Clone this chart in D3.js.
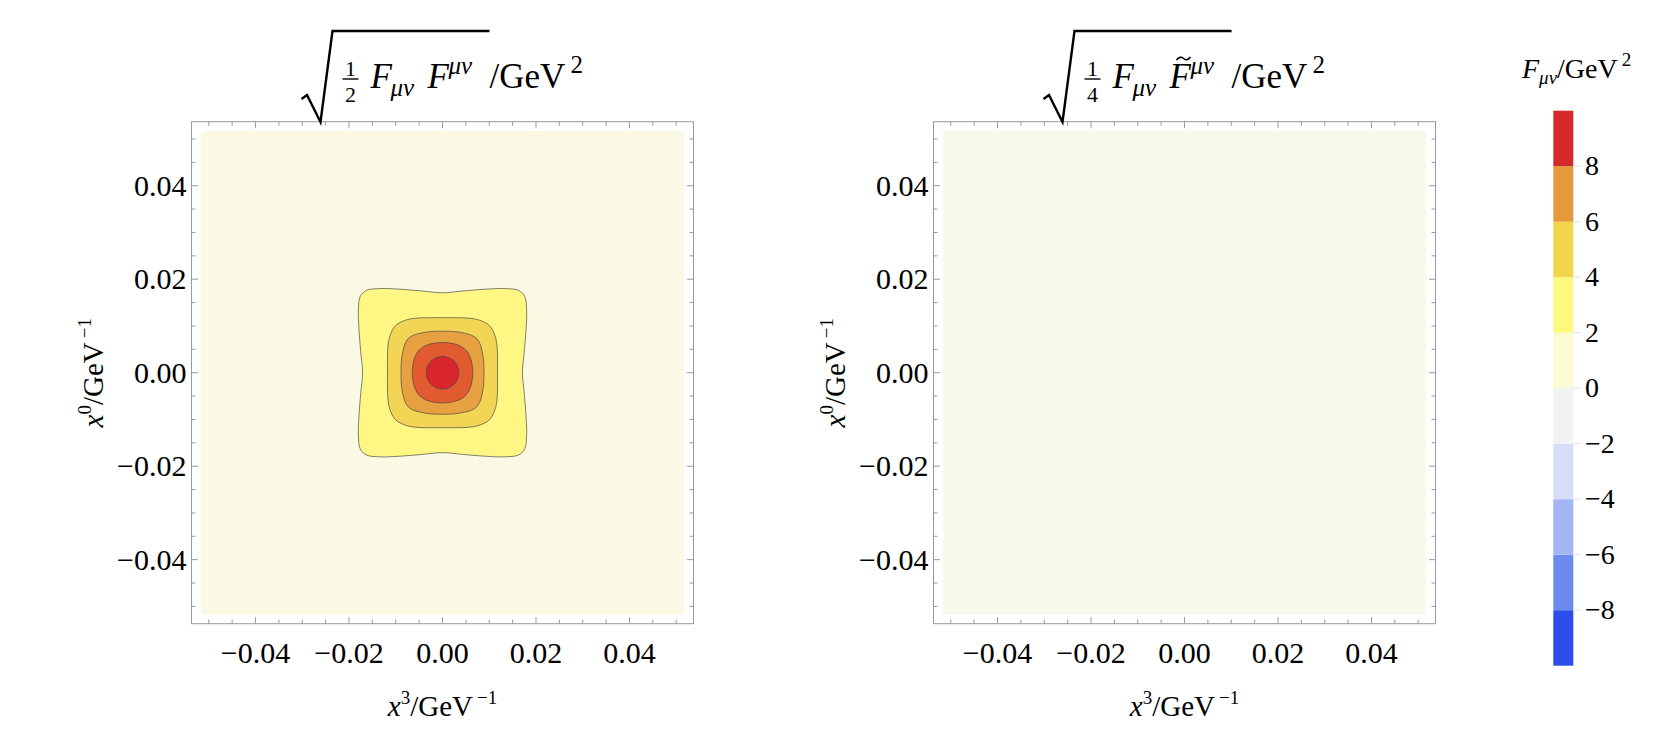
<!DOCTYPE html>
<html>
<head>
<meta charset="utf-8">
<script src="https://cdn.jsdelivr.net/npm/d3@7"></script>
<style>
  body { margin: 0; background: #fff; }
  svg text { font-family: 'Liberation Serif', 'DejaVu Serif', serif; fill: #000; }
</style>
</head>
<body>
<div id="chart"></div>
<script>
// tick labels of both frames
const majorTicks = [-0.04, -0.02, 0, 0.02, 0.04];
const minorTicks = d3.range(-0.05, 0.0501, 0.005);

// contour levels of the left panel and their fills
const levels = [2, 4, 6, 8, 10];
const levelColors = ['#fef783', '#f3d555', '#e8a142', '#e25a2f', '#d8262c'];

// one quadrant of every contour (x3, x0), angle 0 -> 90 deg
const contour2 = [[0.0171, 0], [0.0175, 0.0045], [0.0179, 0.0097], [0.0180, 0.0133], [0.0176, 0.0163],
  [0.0163, 0.0176], [0.0133, 0.0180], [0.0097, 0.0179], [0.0045, 0.0175], [0, 0.0171]];
const contour4 = [[0.01177, 0], [0.01177, 0.00321], [0.01166, 0.00578], [0.01123, 0.00792], [0.01006, 0.01006],
  [0.00792, 0.01123], [0.00578, 0.01166], [0.00321, 0.01177], [0, 0.01177]];
const contour6 = [[0.00888, 0], [0.00881, 0.00257], [0.00845, 0.00471], [0.00802, 0.00620], [0.00732, 0.00732],
  [0.00620, 0.00802], [0.00471, 0.00845], [0.00257, 0.00881], [0, 0.00888]];
const contour8 = [[0.00648, 0], [0.00633, 0.00171], [0.00588, 0.00342], [0.00492, 0.00492],
  [0.00342, 0.00588], [0.00171, 0.00633], [0, 0.00648]];
const contour10 = [[0.00349, 0], [0.00322, 0.00134], [0.00247, 0.00247], [0.00134, 0.00322], [0, 0.00349]];
const contours = [contour2, contour4, contour6, contour8, contour10];

// plotted region and background fills
const plotExtent = [-0.0517, 0.0517];
const bgColors = ['#fbf9e4', '#f8f9ea'];

// legend bar
const barBreaks = [-10, -8, -6, -4, -2, 0, 2, 4, 6, 8, 10];
const barColors = ['#2b4eea', '#6b8cee', '#a3b5f2', '#d6ddf9', '#f1f2f2', '#fcfbd6', '#fdf97c', '#f1d54a', '#e49a3c', '#d42a2c'];
const barLabels = [-8, -6, -4, -2, 0, 2, 4, 6, 8];

const WIDTH = 1653;
const HEIGHT = 755;
const PANEL_SIZE = 502;
const PANEL_TOP = 121.7;
const PANEL_LEFTS = [191.5, 933.5];
const DOMAIN = [-0.0537, 0.0537];

const svg = d3.select('#chart')
  .append('svg')
  .attr('width', WIDTH)
  .attr('height', HEIGHT)
  .attr('viewBox', `0 0 ${WIDTH} ${HEIGHT}`);

// mirror a quadrant into a closed loop
const loop = pts => {
  const n = pts.length;
  const q2 = pts.slice(0, n - 1).reverse().map(([x, y]) => [-x, y]);
  const q3 = pts.slice(1).map(([x, y]) => [-x, -y]);
  const q4 = pts.slice(1, n - 1).reverse().map(([x, y]) => [x, -y]);
  return pts.concat(q2, q3, q4);
};

const fmt = d => d3.format('.2f')(d).replace('-', '\u2212');

const axisLabel = (sel, sup) => {
  sel.append('tspan').style('font-style', 'italic').text('x');
  sel.append('tspan').attr('dy', -12).style('font-size', '19px').text(sup);
  sel.append('tspan').attr('dy', 12).text('/GeV');
  sel.append('tspan').attr('dy', -12).attr('dx', 4).style('font-size', '19px').text('\u22121');
};

const makePanel = (idx, x0) => {
  const x = d3.scaleLinear().domain(DOMAIN).range([x0, x0 + PANEL_SIZE]);
  const y = d3.scaleLinear().domain(DOMAIN).range([PANEL_TOP + PANEL_SIZE, PANEL_TOP]);
  const g = svg.append('g').attr('class', 'panel');

  g.append('rect')
    .attr('x', x(plotExtent[0]))
    .attr('y', y(plotExtent[1]))
    .attr('width', x(plotExtent[1]) - x(plotExtent[0]))
    .attr('height', y(plotExtent[0]) - y(plotExtent[1]))
    .attr('fill', bgColors[idx]);

  if (idx === 0) {
    const line = d3.line()
      .x(d => x(d[0]))
      .y(d => y(d[1]))
      .curve(d3.curveCatmullRomClosed.alpha(0.5));
    g.selectAll('path.contour')
      .data(contours)
      .enter()
      .append('path')
      .attr('class', 'contour')
      .attr('d', d => line(loop(d)))
      .attr('fill', (d, i) => levelColors[i])
      .attr('stroke', '#444')
      .attr('stroke-opacity', 0.75)
      .attr('stroke-width', 0.9);
  }

  // frame with inward ticks on all four sides
  const frame = g.append('g').attr('stroke', '#999').attr('stroke-width', 1).attr('fill', 'none');
  frame.append('rect')
    .attr('x', x0)
    .attr('y', PANEL_TOP)
    .attr('width', PANEL_SIZE)
    .attr('height', PANEL_SIZE);

  const isMajor = v => majorTicks.some(m => Math.abs(m - v) < 1e-6);
  const bottom = PANEL_TOP + PANEL_SIZE;
  const right = x0 + PANEL_SIZE;
  minorTicks.forEach(v => {
    const len = isMajor(v) ? 6.5 : 4;
    const px = x(v);
    const py = y(v);
    frame.append('line').attr('x1', px).attr('x2', px).attr('y1', bottom).attr('y2', bottom - len);
    frame.append('line').attr('x1', px).attr('x2', px).attr('y1', PANEL_TOP).attr('y2', PANEL_TOP + len);
    frame.append('line').attr('x1', x0).attr('x2', x0 + len).attr('y1', py).attr('y2', py);
    frame.append('line').attr('x1', right).attr('x2', right - len).attr('y1', py).attr('y2', py);
  });

  g.selectAll('text.xtick')
    .data(majorTicks)
    .enter()
    .append('text')
    .attr('class', 'xtick')
    .attr('x', d => x(d))
    .attr('y', 663)
    .attr('text-anchor', 'middle')
    .style('font-size', '30px')
    .text(fmt);

  g.selectAll('text.ytick')
    .data(majorTicks)
    .enter()
    .append('text')
    .attr('class', 'ytick')
    .attr('x', x0 - 5)
    .attr('y', d => y(d))
    .attr('dy', '0.33em')
    .attr('text-anchor', 'end')
    .style('font-size', '30px')
    .text(fmt);

  // axis labels
  const xl = g.append('text')
    .attr('x', x(0))
    .attr('y', 716)
    .attr('text-anchor', 'middle')
    .style('font-size', '29px');
  axisLabel(xl, '3');

  const yl = g.append('text')
    .attr('transform', `translate(${x0 - 89},${y(0)}) rotate(-90)`)
    .attr('text-anchor', 'middle')
    .style('font-size', '29px');
  axisLabel(yl, '0');

  // title: radical over (1/2 or 1/4) F F
  const t = svg.append('g').attr('class', 'title');
  t.append('path')
    .attr('d', `M${x0 + 110},${99} L${x0 + 115.5},${95} L${x0 + 129},${122} L${x0 + 141},${31} L${x0 + 298},${31}`)
    .attr('fill', 'none')
    .attr('stroke', '#000')
    .attr('stroke-width', 2.4)
    .attr('stroke-linejoin', 'miter');
  t.append('text').attr('x', x0 + 159).attr('y', 75.5).attr('text-anchor', 'middle').style('font-size', '22px').text('1');
  t.append('line').attr('x1', x0 + 151).attr('x2', x0 + 167).attr('y1', 79).attr('y2', 79).attr('stroke', '#000').attr('stroke-width', 1.4);
  t.append('text').attr('x', x0 + 159).attr('y', 101.5).attr('text-anchor', 'middle').style('font-size', '22px').text(idx === 0 ? '2' : '4');
  t.append('text').attr('x', x0 + 179).attr('y', 87.5).style('font-size', '35px').style('font-style', 'italic').text('F');
  t.append('text').attr('x', x0 + 199).attr('y', 96).style('font-size', '25px').style('font-style', 'italic').text('\u03bc\u03bd');
  t.append('text').attr('x', x0 + 236).attr('y', 87.5).style('font-size', '35px').style('font-style', 'italic').text('F');
  if (idx === 1) {
    t.append('path')
      .attr('d', `M${x0 + 243},${60} q3.5,-4.5 7,-1.5 t7,-1.5`)
      .attr('fill', 'none')
      .attr('stroke', '#000')
      .attr('stroke-width', 1.6);
  }
  t.append('text').attr('x', x0 + 257).attr('y', 74).style('font-size', '25px').style('font-style', 'italic').text('\u03bc\u03bd');
  t.append('text').attr('x', x0 + 298).attr('y', 87.5).style('font-size', '35px').text('/GeV');
  t.append('text').attr('x', x0 + 379).attr('y', 73).style('font-size', '25px').text('2');
};

PANEL_LEFTS.forEach((x0, i) => makePanel(i, x0));

// legend bar
const BAR_X = 1553.3;
const BAR_W = 20;
const by = d3.scaleLinear().domain([-10, 10]).range([665.7, 110.7]);
const legend = svg.append('g').attr('class', 'legend');

legend.selectAll('rect')
  .data(barColors)
  .enter()
  .append('rect')
  .attr('x', BAR_X)
  .attr('width', BAR_W)
  .attr('y', (d, i) => by(barBreaks[i + 1]))
  .attr('height', (d, i) => by(barBreaks[i]) - by(barBreaks[i + 1]))
  .attr('fill', d => d);

legend.selectAll('line')
  .data(barLabels)
  .enter()
  .append('line')
  .attr('x1', BAR_X + BAR_W)
  .attr('x2', BAR_X + BAR_W + 8)
  .attr('y1', d => by(d))
  .attr('y2', d => by(d))
  .attr('stroke', '#e4e4e4')
  .attr('stroke-width', 1);

legend.selectAll('text.lab')
  .data(barLabels)
  .enter()
  .append('text')
  .attr('class', 'lab')
  .attr('x', 1585)
  .attr('y', d => by(d))
  .attr('dy', '0.33em')
  .style('font-size', '28px')
  .text(d => String(d).replace('-', '\u2212'));

const lt = legend.append('text').attr('x', 1522).attr('y', 77.5).style('font-size', '28px');
lt.append('tspan').style('font-style', 'italic').text('F');
lt.append('tspan').attr('dy', 6).style('font-size', '19px').style('font-style', 'italic').text('\u03bc\u03bd');
lt.append('tspan').attr('dy', -6).text('/GeV');
lt.append('tspan').attr('dy', -12).attr('dx', 4).style('font-size', '19px').text('2');
</script>
</body>
</html>
